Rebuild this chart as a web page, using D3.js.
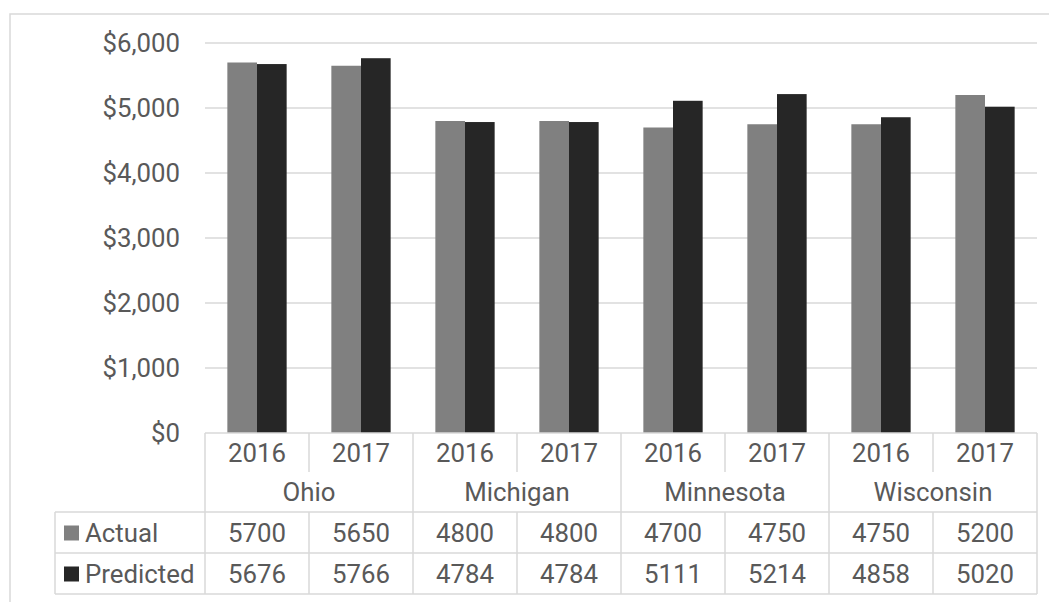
<!DOCTYPE html>
<html>
<head>
<meta charset="utf-8">
<script src="https://cdn.jsdelivr.net/npm/d3@7"></script>
<style>
  html, body { margin: 0; padding: 0; background: #fff; }
  svg { display: block; font-family: Roboto, "Open Sans", sans-serif; }
</style>
</head>
<body>
<svg id="chart" width="1049" height="602"></svg>
<script>
// Chart data
const states = ["Ohio", "Michigan", "Minnesota", "Wisconsin"];
const years = ["2016", "2017"];
const seriesNames = ["Actual", "Predicted"];
const actual = [5700, 5650, 4800, 4800, 4700, 4750, 4750, 5200];
const predicted = [5676, 5766, 4784, 4784, 5111, 5214, 4858, 5020];
const yTicks = [0, 1000, 2000, 3000, 4000, 5000, 6000];

const colors = { Actual: "#808080", Predicted: "#262626" };
const textColor = "#595959";
const lineColor = "#d9d9d9";
const fontSize = 25.8;

// Flat category list: one entry per state/year pair
const cats = [];
states.forEach(s => years.forEach(y => cats.push({ state: s, year: y, key: s + "|" + y })));
const seriesValues = { Actual: actual, Predicted: predicted };

const svg = d3.select("#chart");

// Layout
const plotLeft = 205, plotRight = 1037;
const plotTop = 43, plotBottom = 433;
const rowYear = [433, 472], rowState = [472, 512];
const rowData = [[512, 553], [553, 594]];
const tableLeft = 55;

// Outer chart frame
svg.append("rect")
  .attr("x", 10).attr("y", 14)
  .attr("width", 1060).attr("height", 620)
  .attr("fill", "none").attr("stroke", lineColor).attr("stroke-width", 1.5);

// Scales
const y = d3.scaleLinear().domain([0, 6000]).range([plotBottom, plotTop]);
const x0 = d3.scaleBand().domain(cats.map(c => c.key)).range([plotLeft, plotRight]);
const x1 = d3.scaleBand().domain(seriesNames).range([0, x0.bandwidth()])
  .paddingInner(0).paddingOuter(0.754);

// Gridlines
svg.append("g").selectAll("line").data(yTicks.filter(t => t > 0)).join("line")
  .attr("x1", plotLeft).attr("x2", plotRight)
  .attr("y1", d => y(d)).attr("y2", d => y(d))
  .attr("stroke", lineColor).attr("stroke-width", 1.5);

// Y axis labels
const yAxis = d3.axisLeft(y).tickValues(yTicks).tickSize(0).tickPadding(0)
  .tickFormat(d => "$" + d3.format(",")(d));
const yG = svg.append("g").attr("transform", "translate(180,0)").call(yAxis);
yG.select(".domain").remove();
yG.selectAll("text")
  .attr("fill", textColor).attr("font-size", fontSize)
  .attr("font-family", "Roboto, sans-serif");

// Bars
const groups = svg.append("g").selectAll("g").data(cats).join("g")
  .attr("transform", d => `translate(${x0(d.key)},0)`);
groups.selectAll("rect")
  .data((d, i) => seriesNames.map(n => ({ name: n, value: seriesValues[n][i] })))
  .join("rect")
  .attr("x", d => x1(d.name))
  .attr("width", x1.bandwidth())
  .attr("y", d => y(d.value))
  .attr("height", d => y(0) - y(d.value))
  .attr("fill", d => colors[d.name]);

// Category table lines
const lines = svg.append("g").attr("stroke", lineColor).attr("stroke-width", 1.5);
// axis line
lines.append("line").attr("x1", plotLeft).attr("x2", plotRight)
  .attr("y1", rowYear[0]).attr("y2", rowYear[0]);
// data table horizontal rules
[rowData[0][0], rowData[1][0], rowData[1][1]].forEach(yy => {
  lines.append("line").attr("x1", tableLeft).attr("x2", plotRight)
    .attr("y1", yy).attr("y2", yy);
});
// data table left edge
lines.append("line").attr("x1", tableLeft).attr("x2", tableLeft)
  .attr("y1", rowData[0][0]).attr("y2", rowData[1][1]);
// vertical separators at category boundaries
const bounds = cats.map(c => x0(c.key)).concat([plotRight]);
bounds.forEach((bx, i) => {
  const isStateBoundary = (i % years.length === 0);
  if (isStateBoundary) {
    lines.append("line").attr("x1", bx).attr("x2", bx)
      .attr("y1", rowYear[0]).attr("y2", rowData[1][1]);
  } else {
    lines.append("line").attr("x1", bx).attr("x2", bx)
      .attr("y1", rowYear[0]).attr("y2", rowYear[1]);
    lines.append("line").attr("x1", bx).attr("x2", bx)
      .attr("y1", rowData[0][0]).attr("y2", rowData[1][1]);
  }
});

const txt = svg.append("g")
  .attr("fill", textColor).attr("font-size", fontSize)
  .attr("dominant-baseline", "central");

// Year labels
txt.selectAll(".year").data(cats).join("text")
  .attr("class", "year")
  .attr("x", d => x0(d.key) + x0.bandwidth() / 2)
  .attr("y", (rowYear[0] + rowYear[1]) / 2)
  .attr("text-anchor", "middle")
  .text(d => d.year);

// State labels
txt.selectAll(".state").data(states).join("text")
  .attr("class", "state")
  .attr("x", s => x0(s + "|" + years[0]) + x0.bandwidth() * years.length / 2)
  .attr("y", (rowState[0] + rowState[1]) / 2)
  .attr("text-anchor", "middle")
  .text(s => s);

// Data table rows
seriesNames.forEach((name, r) => {
  const cy = (rowData[r][0] + rowData[r][1]) / 2;
  svg.append("rect")
    .attr("x", 64).attr("y", cy - 7).attr("width", 15).attr("height", 15)
    .attr("fill", colors[name]);
  txt.append("text").attr("x", 85).attr("y", cy).text(name);
  txt.selectAll(".val-" + r).data(seriesValues[name]).join("text")
    .attr("class", "val-" + r)
    .attr("x", (d, i) => x0(cats[i].key) + x0.bandwidth() / 2)
    .attr("y", cy)
    .attr("text-anchor", "middle")
    .text(d => d);
});
</script>
</body>
</html>
